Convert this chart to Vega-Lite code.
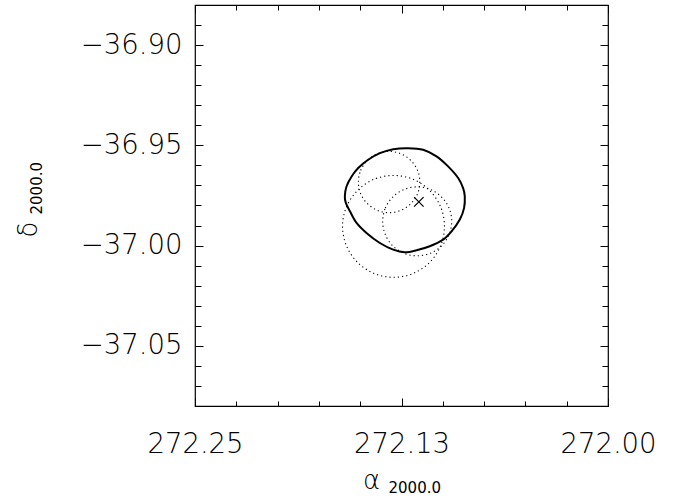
{
  "$schema": "https://vega.github.io/schema/vega-lite/v6.json",
  "width": 413,
  "height": 401,
  "autosize": {"type": "none"},
  "padding": {"left": 195, "top": 5, "right": 66, "bottom": 98},
  "background": "white",
  "config": {
    "view": {"stroke": "black", "strokeWidth": 1.2},
    "axis": {"labelFont": "DejaVu Sans", "titleFont": "DejaVu Sans", "labelFontWeight": 200, "labelColor": "black", "titleColor": "black", "tickColor": "black", "grid": false, "titleFontWeight": "normal", "labelOverlap": false, "labelFlush": false}
  },
  "datasets": {
    "contour": [
      {"i": 0, "ra": 272.1593, "dec": -36.9754},
      {"i": 1, "ra": 272.1583, "dec": -36.9705},
      {"i": 2, "ra": 272.1552, "dec": -36.9655},
      {"i": 3, "ra": 272.1512, "dec": -36.9613},
      {"i": 4, "ra": 272.1452, "dec": -36.9572},
      {"i": 5, "ra": 272.1381, "dec": -36.9539},
      {"i": 6, "ra": 272.1300, "dec": -36.9519},
      {"i": 7, "ra": 272.1210, "dec": -36.9514},
      {"i": 8, "ra": 272.1119, "dec": -36.9522},
      {"i": 9, "ra": 272.1038, "dec": -36.9555},
      {"i": 10, "ra": 272.0968, "dec": -36.9605},
      {"i": 11, "ra": 272.0907, "dec": -36.9663},
      {"i": 12, "ra": 272.0877, "dec": -36.9713},
      {"i": 13, "ra": 272.0867, "dec": -36.9754},
      {"i": 14, "ra": 272.0871, "dec": -36.9812},
      {"i": 15, "ra": 272.0897, "dec": -36.9870},
      {"i": 16, "ra": 272.0947, "dec": -36.9929},
      {"i": 17, "ra": 272.0998, "dec": -36.9970},
      {"i": 18, "ra": 272.1079, "dec": -37.0003},
      {"i": 19, "ra": 272.1159, "dec": -37.0023},
      {"i": 20, "ra": 272.1230, "dec": -37.0033},
      {"i": 21, "ra": 272.1300, "dec": -37.0020},
      {"i": 22, "ra": 272.1381, "dec": -36.9987},
      {"i": 23, "ra": 272.1462, "dec": -36.9937},
      {"i": 24, "ra": 272.1522, "dec": -36.9887},
      {"i": 25, "ra": 272.1562, "dec": -36.9829},
      {"i": 26, "ra": 272.1587, "dec": -36.9787}
    ],
    "circles": [
      {"s": "c1", "i": 0, "ra": 272.1511, "dec": -36.9683},
      {"s": "c1", "i": 1, "ra": 272.1497, "dec": -36.9625},
      {"s": "c1", "i": 2, "ra": 272.1456, "dec": -36.9575},
      {"s": "c1", "i": 3, "ra": 272.1396, "dec": -36.9542},
      {"s": "c1", "i": 4, "ra": 272.1325, "dec": -36.9530},
      {"s": "c1", "i": 5, "ra": 272.1254, "dec": -36.9542},
      {"s": "c1", "i": 6, "ra": 272.1194, "dec": -36.9575},
      {"s": "c1", "i": 7, "ra": 272.1153, "dec": -36.9625},
      {"s": "c1", "i": 8, "ra": 272.1139, "dec": -36.9683},
      {"s": "c1", "i": 9, "ra": 272.1153, "dec": -36.9742},
      {"s": "c1", "i": 10, "ra": 272.1194, "dec": -36.9791},
      {"s": "c1", "i": 11, "ra": 272.1254, "dec": -36.9824},
      {"s": "c1", "i": 12, "ra": 272.1325, "dec": -36.9836},
      {"s": "c1", "i": 13, "ra": 272.1396, "dec": -36.9824},
      {"s": "c1", "i": 14, "ra": 272.1456, "dec": -36.9791},
      {"s": "c1", "i": 15, "ra": 272.1497, "dec": -36.9742},
      {"s": "c2", "i": 0, "ra": 272.1607, "dec": -36.9904},
      {"s": "c2", "i": 1, "ra": 272.1583, "dec": -36.9807},
      {"s": "c2", "i": 2, "ra": 272.1516, "dec": -36.9725},
      {"s": "c2", "i": 3, "ra": 272.1416, "dec": -36.9669},
      {"s": "c2", "i": 4, "ra": 272.1298, "dec": -36.9650},
      {"s": "c2", "i": 5, "ra": 272.1180, "dec": -36.9669},
      {"s": "c2", "i": 6, "ra": 272.1080, "dec": -36.9725},
      {"s": "c2", "i": 7, "ra": 272.1013, "dec": -36.9807},
      {"s": "c2", "i": 8, "ra": 272.0990, "dec": -36.9904},
      {"s": "c2", "i": 9, "ra": 272.1013, "dec": -37.0001},
      {"s": "c2", "i": 10, "ra": 272.1080, "dec": -37.0084},
      {"s": "c2", "i": 11, "ra": 272.1180, "dec": -37.0139},
      {"s": "c2", "i": 12, "ra": 272.1298, "dec": -37.0158},
      {"s": "c2", "i": 13, "ra": 272.1416, "dec": -37.0139},
      {"s": "c2", "i": 14, "ra": 272.1516, "dec": -37.0084},
      {"s": "c2", "i": 15, "ra": 272.1583, "dec": -37.0001},
      {"s": "c3", "i": 0, "ra": 272.1364, "dec": -36.9879},
      {"s": "c3", "i": 1, "ra": 272.1348, "dec": -36.9813},
      {"s": "c3", "i": 2, "ra": 272.1303, "dec": -36.9758},
      {"s": "c3", "i": 3, "ra": 272.1235, "dec": -36.9720},
      {"s": "c3", "i": 4, "ra": 272.1155, "dec": -36.9707},
      {"s": "c3", "i": 5, "ra": 272.1075, "dec": -36.9720},
      {"s": "c3", "i": 6, "ra": 272.1007, "dec": -36.9758},
      {"s": "c3", "i": 7, "ra": 272.0962, "dec": -36.9813},
      {"s": "c3", "i": 8, "ra": 272.0946, "dec": -36.9879},
      {"s": "c3", "i": 9, "ra": 272.0962, "dec": -36.9945},
      {"s": "c3", "i": 10, "ra": 272.1007, "dec": -37.0001},
      {"s": "c3", "i": 11, "ra": 272.1075, "dec": -37.0038},
      {"s": "c3", "i": 12, "ra": 272.1155, "dec": -37.0051},
      {"s": "c3", "i": 13, "ra": 272.1235, "dec": -37.0038},
      {"s": "c3", "i": 14, "ra": 272.1303, "dec": -37.0001},
      {"s": "c3", "i": 15, "ra": 272.1348, "dec": -36.9945}
    ],
    "marker": [{"ra": 272.1145, "dec": -36.9782}]
  },
  "layer": [
    {
      "data": {"name": "contour"},
      "mark": {"type": "line", "interpolate": "cardinal-closed", "stroke": "black", "strokeWidth": 2},
      "encoding": {
        "x": {"field": "ra", "type": "quantitative", "scale": {"domain": [272.0, 272.25], "reverse": true, "nice": false, "zero": false},
          "axis": {"orient": "bottom", "values": [272.25, 272.125, 272.0], "format": ".2f", "ticks": false, "domain": false, "labelFontSize": 27.5, "labelPadding": 24,
            "title": "α", "titleFontSize": 26, "titleFontWeight": 200, "titleX": 176, "titleY": 82, "titleAlign": "center", "titleBaseline": "alphabetic", "titleAngle": 0}},
        "y": {"field": "dec", "type": "quantitative", "scale": {"domain": [-37.08, -36.88], "nice": false, "zero": false},
          "axis": {"orient": "left", "values": [-36.9, -36.95, -37.0, -37.05], "format": ".2f", "ticks": false, "domain": false, "labelFontSize": 27.5, "labelPadding": 13,
            "title": "δ", "titleFontSize": 26, "titleFontWeight": 200, "titleX": -159, "titleY": 224, "titleAlign": "center", "titleBaseline": "alphabetic", "titleAngle": 270}},
        "order": {"field": "i", "type": "quantitative"}
      }
    },
    {
      "data": {"name": "circles"},
      "mark": {"type": "line", "interpolate": "cardinal-closed", "stroke": "black", "strokeWidth": 1.1, "strokeDash": [1.2, 3]},
      "encoding": {
        "x": {"field": "ra", "type": "quantitative", "scale": {"domain": [272.0, 272.25], "reverse": true, "nice": false, "zero": false},
          "axis": {"orient": "bottom", "values": [272.0, 272.025, 272.05, 272.075, 272.1, 272.125, 272.15, 272.175, 272.2, 272.225, 272.25], "labels": false, "domain": false,
            "tickSize": {"condition": {"test": "abs(datum.value*8 - round(datum.value*8)) < 0.001", "value": -8}, "value": -5},
            "title": "2000.0", "titleFontSize": 15, "titleX": 193, "titleY": 86, "titleAlign": "left", "titleBaseline": "alphabetic", "titleAngle": 0}},
        "y": {"field": "dec", "type": "quantitative", "scale": {"domain": [-37.08, -36.88], "nice": false, "zero": false},
          "axis": {"orient": "left", "values": [-37.08, -37.07, -37.06, -37.05, -37.04, -37.03, -37.02, -37.01, -37.0, -36.99, -36.98, -36.97, -36.96, -36.95, -36.94, -36.93, -36.92, -36.91, -36.9, -36.89, -36.88], "labels": false, "domain": false,
            "tickSize": {"condition": {"test": "abs(datum.value*20 - round(datum.value*20)) < 0.001", "value": -8}, "value": -6},
            "title": "2000.0", "titleFontSize": 15, "titleX": -154, "titleY": 209, "titleAlign": "left", "titleBaseline": "alphabetic", "titleAngle": 270}},
        "detail": {"field": "s", "type": "nominal"},
        "order": {"field": "i", "type": "quantitative"}
      }
    },
    {
      "data": {"name": "marker"},
      "mark": {"type": "point", "shape": "M-1,-1L1,1M-1,1L1,-1", "filled": false, "stroke": "black", "strokeWidth": 1.2, "size": 90, "opacity": 1},
      "encoding": {
        "x": {"field": "ra", "type": "quantitative", "scale": {"domain": [272.0, 272.25], "reverse": true, "nice": false, "zero": false},
          "axis": {"orient": "top", "values": [272.0, 272.025, 272.05, 272.075, 272.1, 272.125, 272.15, 272.175, 272.2, 272.225, 272.25], "labels": false, "domain": false, "title": null,
            "tickSize": {"condition": {"test": "abs(datum.value*8 - round(datum.value*8)) < 0.001", "value": -8}, "value": -5}}},
        "y": {"field": "dec", "type": "quantitative", "scale": {"domain": [-37.08, -36.88], "nice": false, "zero": false},
          "axis": {"orient": "right", "values": [-37.08, -37.07, -37.06, -37.05, -37.04, -37.03, -37.02, -37.01, -37.0, -36.99, -36.98, -36.97, -36.96, -36.95, -36.94, -36.93, -36.92, -36.91, -36.9, -36.89, -36.88], "labels": false, "domain": false, "title": null,
            "tickSize": {"condition": {"test": "abs(datum.value*20 - round(datum.value*20)) < 0.001", "value": -8}, "value": -6}}}
      }
    }
  ],
  "resolve": {"scale": {"x": "independent", "y": "independent"}, "axis": {"x": "independent", "y": "independent"}}
}
